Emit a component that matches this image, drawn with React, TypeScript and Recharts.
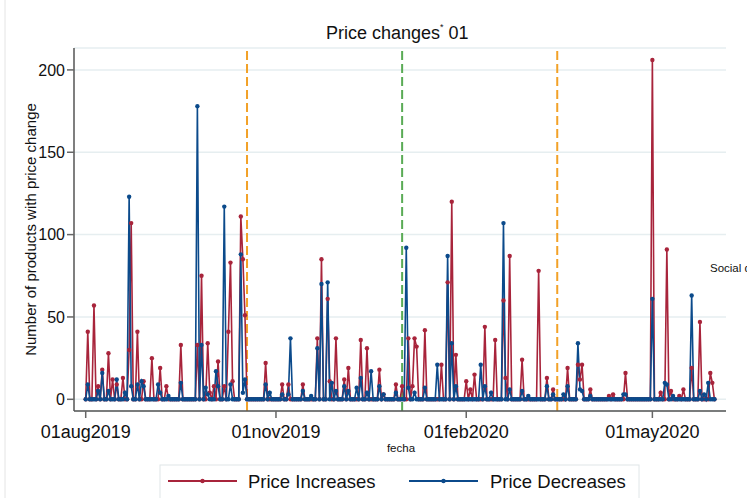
import React from 'react';
import { LineChart, Line, XAxis, YAxis, CartesianGrid, ReferenceLine } from 'recharts';

// day index 0 = 01aug2019
const tickDays = [0, 92, 184, 274];
const tickLabels = ['01aug2019', '01nov2019', '01feb2020', '01may2020'];
const yTicks = [0, 50, 100, 150, 200];
const eventDays = [78, 153, 228];
const lastDay = 304;
const seriesNames = ['Price Increases', 'Price Decreases'];

const increases: [number, number][] = [
  [1, 41], [4, 57], [6, 8], [8, 18], [11, 28], [13, 12], [15, 9], [18, 13], [21, 30], [22, 107],
  [25, 41], [28, 11], [32, 25], [36, 19], [39, 8], [46, 33], [54, 33], [56, 75], [59, 34], [60, 4],
  [62, 8], [64, 23], [67, 8], [69, 41], [70, 83], [71, 11], [75, 111], [76, 85], [77, 51], [87, 22],
  [95, 9], [98, 9], [105, 9], [112, 37], [114, 85], [117, 61], [118, 11], [121, 37], [125, 12], [127, 19],
  [133, 36], [136, 31], [142, 18], [144, 3], [150, 9], [153, 8], [156, 37], [158, 8], [159, 37], [160, 32],
  [164, 42], [172, 21], [175, 71], [177, 120], [179, 27], [184, 11], [186, 6], [188, 15], [193, 44], [198, 36],
  [202, 60], [203, 13], [205, 87], [211, 24], [219, 78], [223, 13], [226, 6], [233, 19], [238, 21], [239, 12],
  [240, 21], [244, 6], [253, 2], [255, 3], [261, 16], [274, 206], [278, 4], [281, 91], [283, 5], [287, 2],
  [289, 6], [293, 19], [297, 47], [302, 16], [303, 10],
];

const decreases: [number, number][] = [
  [1, 9], [6, 5], [8, 16], [11, 5], [15, 12], [19, 4], [21, 123], [22, 8], [25, 9], [27, 11],
  [28, 8], [35, 9], [36, 4], [40, 2], [46, 10], [54, 178], [56, 33], [58, 7], [59, 3], [63, 17],
  [64, 8], [67, 117], [70, 9], [75, 88], [76, 4], [77, 12], [87, 9], [89, 4], [95, 3], [98, 3],
  [99, 37], [105, 5], [109, 2], [112, 31], [114, 70], [117, 71], [119, 10], [121, 5], [125, 8], [127, 5],
  [131, 7], [133, 13], [136, 4], [138, 17], [142, 8], [144, 3], [150, 4], [155, 92], [156, 7], [159, 4],
  [164, 7], [170, 21], [175, 87], [177, 34], [179, 8], [191, 21], [193, 8], [196, 4], [202, 107], [205, 6],
  [211, 5], [214, 2], [223, 8], [226, 3], [231, 3], [233, 8], [238, 34], [239, 6], [240, 5], [244, 2],
  [260, 3], [261, 3], [274, 61], [280, 10], [281, 9], [284, 2], [293, 63], [297, 5], [299, 3], [301, 10],
];

const RED = '#a8243b';
const BLUE = '#0b4a8b';
const ORANGE = '#f2a127';
const GREEN = '#5aab55';
const eventColors = [ORANGE, GREEN, ORANGE];
const FONT = '"Liberation Sans", Arial, Helvetica, sans-serif';

const data = Array.from({ length: lastDay + 1 }, (_, d) => ({ day: d, inc: 0, dec: 0 }));
increases.forEach(([d, v]) => { data[d].inc = v; });
decreases.forEach(([d, v]) => { data[d].dec = v; });

export default function App() {
  return (
    <div style={{ position: 'absolute', left: 0, top: 0, width: 747, height: 498, background: '#fff', fontFamily: FONT }}>
      <LineChart width={747} height={498} data={data} margin={{ top: 48, right: 21, bottom: 57, left: 20 }}>
        <CartesianGrid vertical={false} stroke="#e6eef0" strokeWidth={1.5} />
        <XAxis
          dataKey="day"
          type="number"
          domain={[-5.66, 309.6]}
          ticks={tickDays}
          interval={0}
          height={30}
          tickFormatter={(v: number) => tickLabels[tickDays.indexOf(v)] ?? ''}
          tickSize={7}
          tickMargin={7}
          axisLine={{ stroke: '#555', strokeWidth: 1.5 }}
          tickLine={{ stroke: '#666', strokeWidth: 1.5 }}
          tick={{ fontSize: 18, fill: '#111', fontFamily: FONT }}
          allowDataOverflow
        />
        <YAxis
          type="number"
          domain={[-7.1, 213.3]}
          ticks={yTicks}
          interval={0}
          width={54}
          tickSize={7}
          tickMargin={2}
          axisLine={{ stroke: '#555', strokeWidth: 1.5 }}
          tickLine={{ stroke: '#666', strokeWidth: 1.5 }}
          tick={{ fontSize: 16, fill: '#111', fontFamily: FONT }}
          allowDataOverflow
        />
        {eventDays.map((d, i) => (
          <ReferenceLine key={d} x={d} stroke={eventColors[i]} strokeWidth={2} strokeDasharray="9 4" />
        ))}
        <Line
          type="linear"
          dataKey="inc"
          name={seriesNames[0]}
          stroke={RED}
          strokeWidth={1.6}
          dot={{ r: 2.2, fill: RED, stroke: RED, strokeWidth: 0 }}
          activeDot={false}
          isAnimationActive={false}
        />
        <Line
          type="linear"
          dataKey="dec"
          name={seriesNames[1]}
          stroke={BLUE}
          strokeWidth={1.6}
          dot={{ r: 2.2, fill: BLUE, stroke: BLUE, strokeWidth: 0 }}
          activeDot={false}
          isAnimationActive={false}
        />
      </LineChart>
      <svg width={747} height={498} style={{ position: 'absolute', left: 0, top: 0, pointerEvents: 'none' }}>
        <line x1={5} y1={0} x2={5} y2={498} stroke="#e4e4e4" strokeWidth={1} />
        <text x={326} y={39} fontSize={18} fill="#111" fontFamily={FONT}>
          Price changes<tspan fontSize={9} dy={-9}>*</tspan><tspan dy={9}> 01</tspan>
        </text>
        <text
          x={30}
          y={229.5}
          fontSize={15}
          fill="#111"
          fontFamily={FONT}
          textAnchor="middle"
          dominantBaseline="central"
          transform="rotate(-90 30 229.5)"
        >
          Number of products with price change
        </text>
        <text x={401} y={448} fontSize={11.5} fill="#111" fontFamily={FONT} textAnchor="middle" dominantBaseline="central">
          fecha
        </text>
        <text x={710} y={268} fontSize={11.5} fill="#111" fontFamily={FONT} dominantBaseline="central">
          Social distancing
        </text>
        <rect x={160} y={465} width={479} height={40} fill="#fff" stroke="#e0e6e8" strokeWidth={1} />
        <line x1={168} y1={481} x2={237} y2={481} stroke={RED} strokeWidth={2} />
        <circle cx={202.5} cy={481} r={2.2} fill={RED} />
        <text x={248} y={487.5} fontSize={18.5} fill="#111" fontFamily={FONT}>{seriesNames[0]}</text>
        <line x1={409} y1={481} x2={478} y2={481} stroke={BLUE} strokeWidth={2} />
        <circle cx={443.5} cy={481} r={2.2} fill={BLUE} />
        <text x={490} y={487.5} fontSize={18.5} fill="#111" fontFamily={FONT}>{seriesNames[1]}</text>
      </svg>
    </div>
  );
}
